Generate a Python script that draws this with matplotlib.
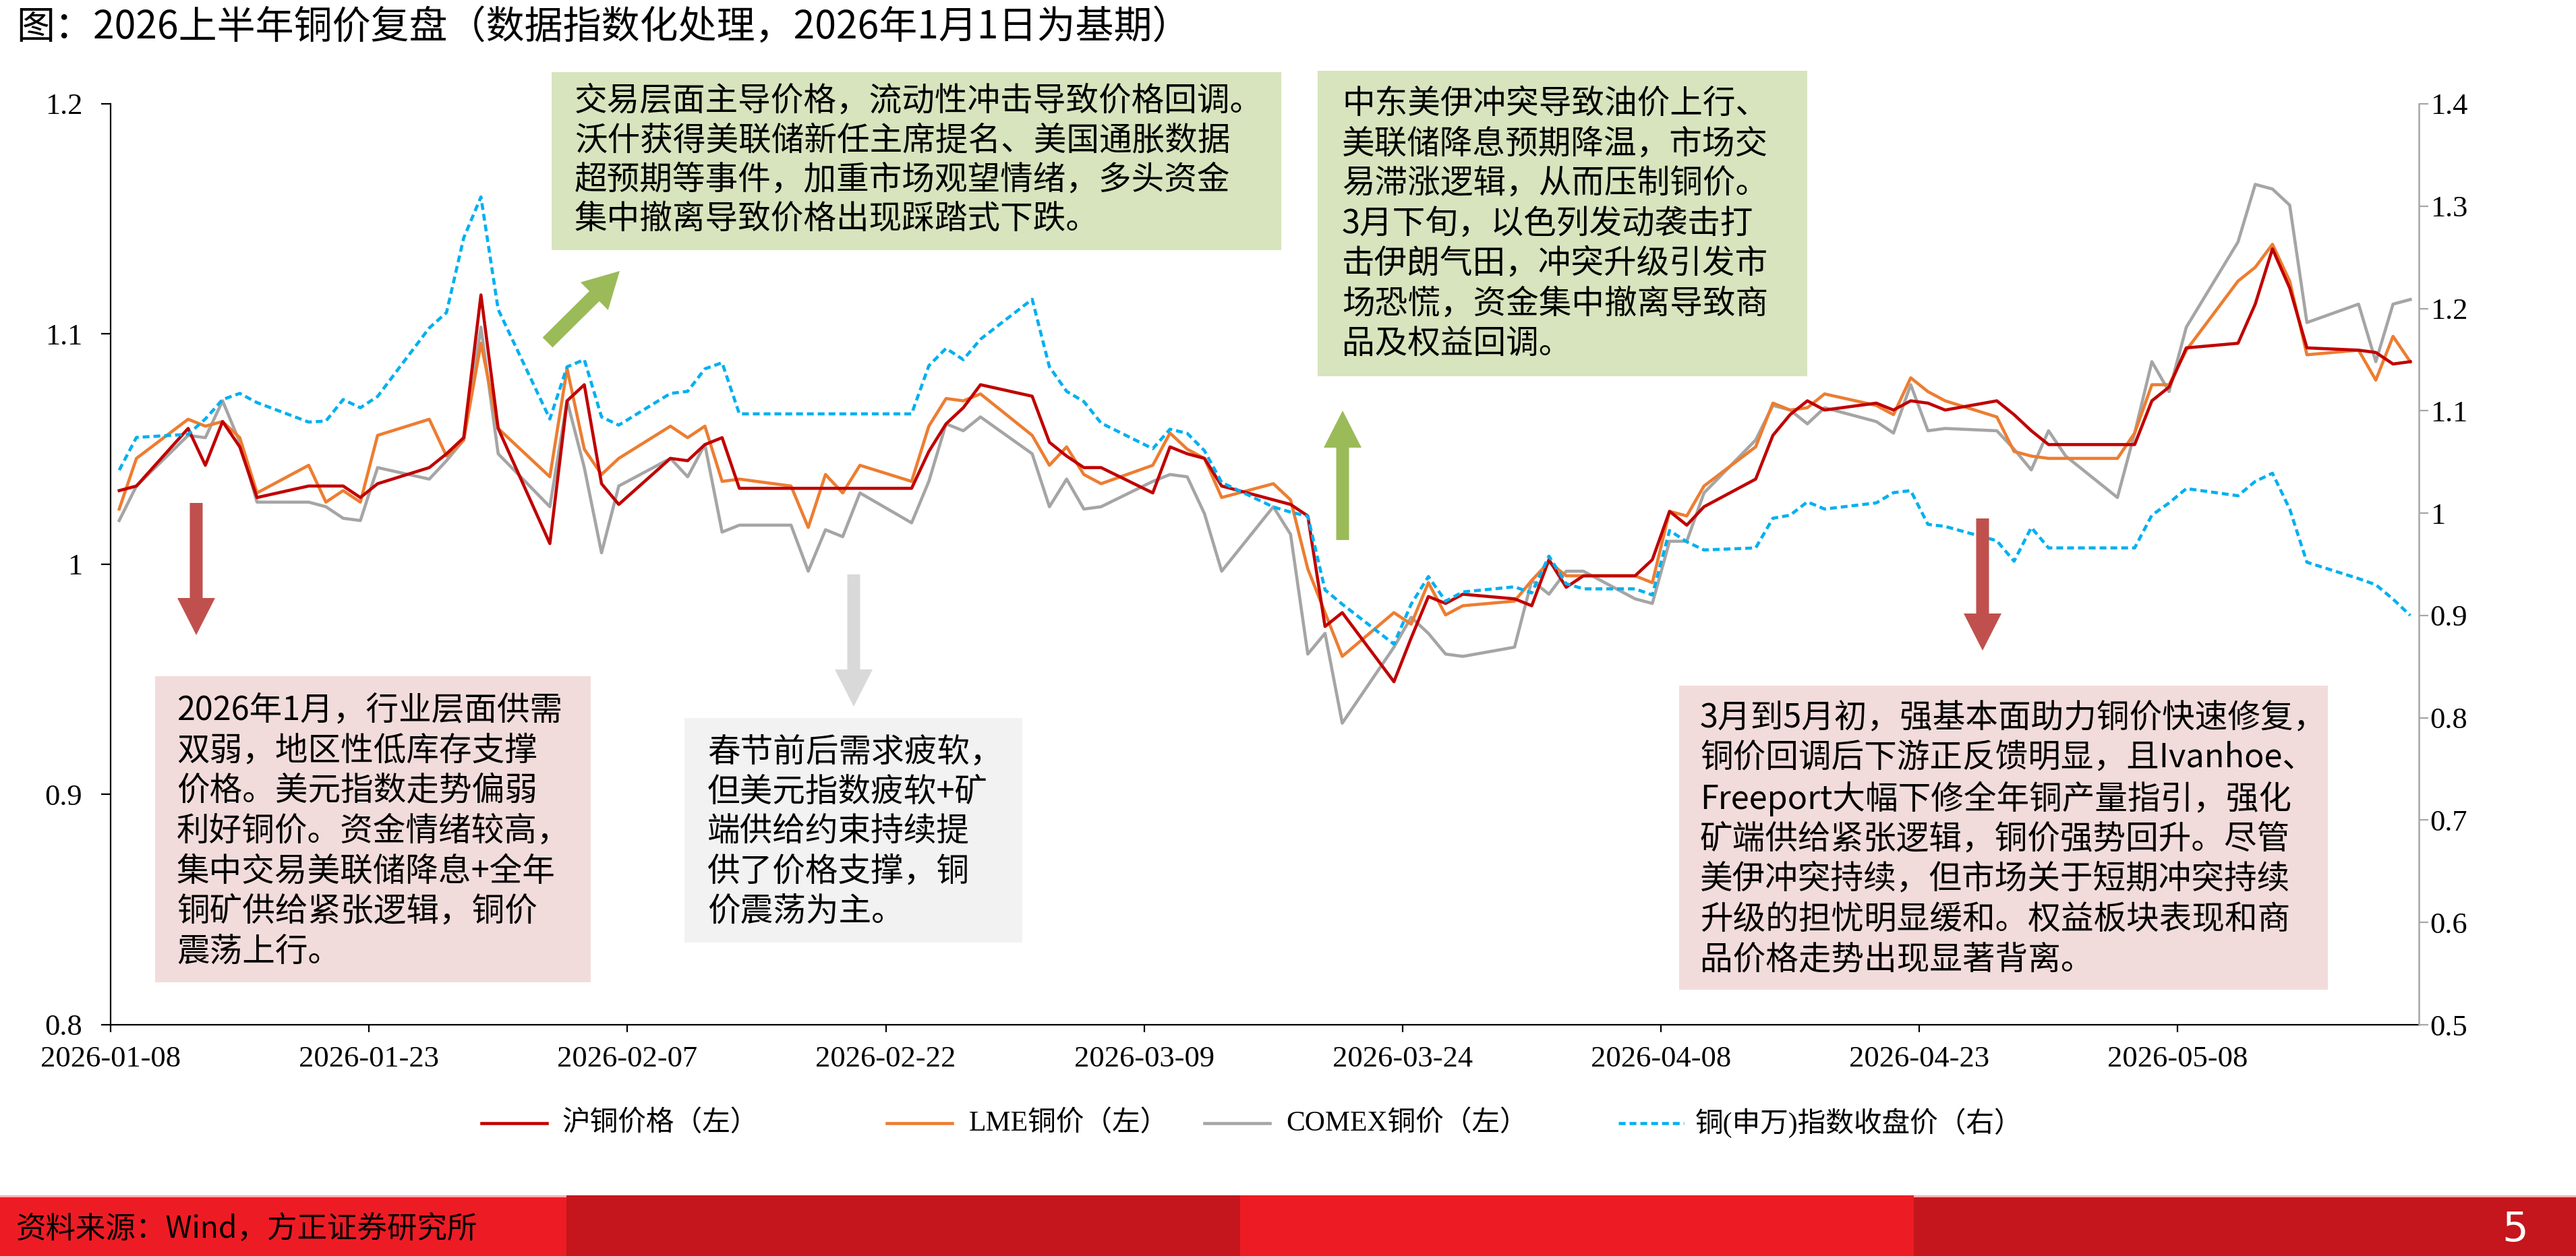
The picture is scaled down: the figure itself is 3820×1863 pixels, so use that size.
import numpy as np
import pandas as pd
import matplotlib
matplotlib.use('Agg')
import matplotlib.pyplot as plt
from matplotlib.patches import Rectangle, Polygon
from matplotlib.lines import Line2D
from matplotlib.ticker import FuncFormatter
import matplotlib.dates as mdates

plt.rcParams['font.family'] = ['Liberation Serif', 'Noto Sans CJK SC']
CJK = ['Noto Sans CJK SC', 'DejaVu Sans']

# ---- data (index, 2026-01-01 = 1), one value per business day ----
dates = pd.bdate_range('2026-01-08', '2026-05-21')

shfe = [1.032, 1.034,
        1.059, 1.043, 1.062, 1.051, 1.029,
        1.034, 1.034, 1.034, 1.029, 1.035,
        1.042, 1.048, 1.055, 1.117, 1.059,
        1.009, 1.071, 1.078, 1.035, 1.026,
        1.046, 1.045, 1.052, 1.055, 1.033,
        1.033, 1.033, 1.033, 1.033, 1.033,
        1.033, 1.049, 1.061, 1.068, 1.078,
        1.073, 1.053, 1.047, 1.042, 1.042,
        1.031, 1.051, 1.048, 1.046, 1.034,
        1.028, 1.026, 1.021, 0.973, 0.979,
        0.949, 0.968, 0.986, 0.983, 0.987,
        0.985, 0.982, 1.002, 0.990, 0.995,
        0.995, 1.002, 1.023, 1.017, 1.025,
        1.037, 1.056, 1.065, 1.071, 1.067,
        1.070, 1.067, 1.071, 1.070, 1.067,
        1.071, 1.065, 1.058, 1.052, 1.052,
        1.052, 1.052, 1.071, 1.077, 1.094,
        1.096, 1.113, 1.137, 1.120, 1.094,
        1.093, 1.092, 1.087, 1.088]

lme = [1.024, 1.046,
       1.063, 1.060, 1.062, 1.055, 1.031,
       1.043, 1.027, 1.032, 1.027, 1.056,
       1.063, 1.047, 1.054, 1.096, 1.059,
       1.038, 1.085, 1.050, 1.039, 1.046,
       1.060, 1.055, 1.060, 1.036, 1.037,
       1.034, 1.016, 1.039, 1.031, 1.043,
       1.036, 1.060, 1.072, 1.071, 1.074,
       1.056, 1.043, 1.051, 1.039, 1.035,
       1.043, 1.057, 1.050, 1.046, 1.029,
       1.035, 1.028, 0.998, 0.979, 0.960,
       0.979, 0.974, 0.992, 0.978, 0.982,
       0.984, 0.993, 1.001, 0.995, 0.995,
       0.995, 0.992, 1.023, 1.021, 1.034,
       1.051, 1.070, 1.067, 1.068, 1.074,
       1.069, 1.065, 1.081, 1.075, 1.071,
       1.064, 1.049, 1.047, 1.046, 1.046,
       1.046, 1.057, 1.078, 1.078, 1.093,
       1.123, 1.129, 1.139, 1.123, 1.091,
       1.093, 1.080, 1.099, 1.088]

comex = [1.019, 1.034,
         1.056, 1.055, 1.071, 1.053, 1.027,
         1.027, 1.025, 1.020, 1.019, 1.042,
         1.037, 1.045, 1.054, 1.103, 1.048,
         1.025, 1.071, 1.042, 1.005, 1.034,
         1.046, 1.038, 1.052, 1.014, 1.017,
         1.017, 0.997, 1.015, 1.012, 1.031,
         1.018, 1.036, 1.061, 1.058, 1.064,
         1.048, 1.025, 1.037, 1.024, 1.025,
         1.036, 1.039, 1.038, 1.022, 0.997,
         1.025, 1.013, 0.961, 0.970, 0.931,
         0.964, 0.977, 0.970, 0.961, 0.960,
         0.964, 0.993, 0.987, 0.997, 0.997,
         0.985, 0.983, 1.010, 1.010, 1.031,
         1.054, 1.069, 1.067, 1.061, 1.068,
         1.062, 1.057, 1.078, 1.058, 1.059,
         1.058, 1.050, 1.041, 1.058, 1.047,
         1.029, 1.057, 1.088, 1.075, 1.103,
         1.140, 1.165, 1.163, 1.156, 1.105,
         1.113, 1.088, 1.113, 1.115]

sw_copper = [1.042, 1.074,
             1.077, 1.092, 1.111, 1.117, 1.108,
             1.089, 1.090, 1.111, 1.103, 1.114,
             1.181, 1.196, 1.269, 1.309, 1.199,
             1.092, 1.143, 1.150, 1.094, 1.086,
             1.117, 1.119, 1.141, 1.147, 1.097,
             1.097, 1.097, 1.097, 1.097, 1.097,
             1.097, 1.144, 1.161, 1.150, 1.170,
             1.209, 1.143, 1.119, 1.109, 1.088,
             1.063, 1.082, 1.078, 1.061, 1.030,
             1.006, 1.001, 0.997, 0.925, 0.911,
             0.872, 0.911, 0.938, 0.914, 0.923,
             0.928, 0.922, 0.958, 0.931, 0.926,
             0.926, 0.920, 0.983, 0.972, 0.964,
             0.966, 0.995, 0.998, 1.011, 1.004,
             1.010, 1.020, 1.022, 0.989, 0.987,
             0.973, 0.953, 0.986, 0.966, 0.966,
             0.966, 0.966, 0.998, 1.010, 1.024,
             1.017, 1.031, 1.039, 1.004, 0.952,
             0.936, 0.930, 0.916, 0.900]

labels = ['沪铜价格（左）', 'LME铜价（左）', 'COMEX铜价（左）', '铜(申万)指数收盘价（右）']
tick_dates = pd.date_range('2026-01-08', periods=9, freq='15D')

title = '图：2026上半年铜价复盘（数据指数化处理，2026年1月1日为基期）'
source = '资料来源：Wind，方正证券研究所'

note_feb = ['交易层面主导价格，流动性冲击导致价格回调。',
            '沃什获得美联储新任主席提名、美国通胀数据',
            '超预期等事件，加重市场观望情绪，多头资金',
            '集中撤离导致价格出现踩踏式下跌。']
note_mar = ['中东美伊冲突导致油价上行、',
            '美联储降息预期降温，市场交',
            '易滞涨逻辑，从而压制铜价。',
            '3月下旬，以色列发动袭击打',
            '击伊朗气田，冲突升级引发市',
            '场恐慌，资金集中撤离导致商',
            '品及权益回调。']
note_jan = ['2026年1月，行业层面供需',
            '双弱，地区性低库存支撑',
            '价格。美元指数走势偏弱',
            '利好铜价。资金情绪较高，',
            '集中交易美联储降息+全年',
            '铜矿供给紧张逻辑，铜价',
            '震荡上行。']
note_spring = ['春节前后需求疲软，',
               '但美元指数疲软+矿',
               '端供给约束持续提',
               '供了价格支撑，铜',
               '价震荡为主。']
note_apr = ['3月到5月初，强基本面助力铜价快速修复，',
            '铜价回调后下游正反馈明显，且Ivanhoe、',
            'Freeport大幅下修全年铜产量指引，强化',
            '矿端供给紧张逻辑，铜价强势回升。尽管',
            '美伊冲突持续，但市场关于短期冲突持续',
            '升级的担忧明显缓和。权益板块表现和商',
            '品价格走势出现显著背离。']

# ---- figure ----
W, H = 3820, 1863
fig = plt.figure(figsize=(W / 100, H / 100), dpi=100)
fig.patch.set_facecolor('white')


def fx(px):
    return px / W


def fy(py):
    return 1 - py / H


ax = fig.add_axes([fx(164), fy(1520), (3587 - 164) / W, (1520 - 154) / H])
ax2 = ax.twinx()
ax.patch.set_alpha(0)

x = dates + pd.Timedelta(hours=12)
ax.plot(x, comex, color='#A5A5A5', lw=3.3, zorder=3)
ax.plot(x, lme, color='#ED7D31', lw=3.3, zorder=4)
ax.plot(x, shfe, color='#C00000', lw=3.3, zorder=5)
ax2.plot(x, sw_copper, color='#00B0F0', lw=3.3, linestyle=(0, (2.2, 1.3)))

ax.set_xlim(pd.Timestamp('2026-01-08'), pd.Timestamp('2026-05-22'))
ax.set_ylim(0.8, 1.2)
ax2.set_ylim(0.5, 1.4)
ax.set_yticks(np.round(np.arange(0.8, 1.21, 0.1), 1))
ax2.set_yticks(np.round(np.arange(0.5, 1.41, 0.1), 1))
fmt = FuncFormatter(lambda v, p: f'{round(v, 1):g}')
ax.yaxis.set_major_formatter(fmt)
ax2.yaxis.set_major_formatter(fmt)
ax.set_xticks(tick_dates)
ax.xaxis.set_major_formatter(mdates.DateFormatter('%Y-%m-%d'))

for s in ['top', 'right']:
    ax.spines[s].set_visible(False)
for s in ['top', 'left', 'bottom']:
    ax2.spines[s].set_visible(False)
ax.spines['left'].set_linewidth(1.6)
ax.spines['bottom'].set_linewidth(1.6)
ax2.spines['right'].set_color('#A6A6A6')
ax2.spines['right'].set_linewidth(1.8)

ax.tick_params(axis='y', direction='out', length=10, width=1.6, labelsize=32, pad=20)
ax.tick_params(axis='x', direction='out', length=8, width=1.6, labelsize=32, pad=14)
ax2.tick_params(axis='y', direction='out', length=10, width=1.6, color='#A6A6A6',
                labelsize=32, pad=2)

# ---- legend (drawn below the plot) ----
leg_y = fy(1666)
leg_items = [(714, 833, '#C00000', '-'), (1315, 1437, '#ED7D31', '-'),
             (1786, 1907, '#A5A5A5', '-'), (2400, 2514, '#00B0F0', (0, (2.2, 1.3)))]
for (lx, tx, c, ls), lab in zip(leg_items, labels):
    fig.add_artist(Line2D([fx(lx), fx(lx + 97)], [leg_y, leg_y], color=c, lw=3.3,
                          linestyle=ls, transform=fig.transFigure))
    fig.text(fx(tx), leg_y, lab, fontsize=30, va='center', ha='left')

# ---- annotation boxes ----
def note(x0, y0, x1, y1, color, tx, ty, dy, lines):
    fig.patches.append(Rectangle((fx(x0), fy(y1)), (x1 - x0) / W, (y1 - y0) / H,
                                 transform=fig.transFigure, facecolor=color,
                                 edgecolor='none', zorder=6))
    for i, ln in enumerate(lines):
        fig.text(fx(tx), fy(ty + i * dy), ln, fontsize=35, family=CJK,
                 va='center', ha='left', color='black', zorder=7)


note(818, 107, 1900, 371, '#D7E4BD', 852, 150, 58.3, note_feb)
note(1954, 105, 2680, 558, '#D7E4BD', 1990, 154, 59.5, note_mar)
note(230, 1003, 876, 1457, '#F2DCDB', 262, 1054, 59.6, note_jan)
note(1015, 1065, 1516, 1398, '#F2F2F2', 1049, 1116, 59, note_spring)
note(2490, 1017, 3452, 1468, '#F2DCDB', 2521, 1065, 59.8, note_apr)


# ---- arrows ----
def arrow(tail, tip, shaft_w, head_w, head_len, color):
    tail = np.array(tail, float)
    tip = np.array(tip, float)
    u = (tip - tail) / np.linalg.norm(tip - tail)
    n = np.array([-u[1], u[0]])
    base = tip - u * head_len
    pts = [tail + n * shaft_w / 2, base + n * shaft_w / 2, base + n * head_w / 2, tip,
           base - n * head_w / 2, base - n * shaft_w / 2, tail - n * shaft_w / 2]
    pts = [(fx(p[0]), fy(p[1])) for p in pts]
    fig.patches.append(Polygon(pts, closed=True, transform=fig.transFigure,
                               facecolor=color, edgecolor='none', zorder=6))


arrow((291, 746), (291, 942), 19, 56, 55, '#C0504D')
arrow((812, 508), (919, 402), 21, 58, 53, '#9BBB59')
arrow((1266, 852), (1266, 1048), 19, 56, 55, '#D9D9D9')
arrow((1991, 801), (1991, 609), 19, 56, 55, '#9BBB59')
arrow((2940, 769), (2940, 965), 19, 56, 55, '#C0504D')

# ---- title ----
fig.text(fx(24), fy(41), title, fontsize=41, family=CJK, weight='medium',
         va='center', ha='left')

# ---- footer band ----
band = [(0, 840, '#ED1C24'), (840, 1839, '#C4161C'), (1839, 2838, '#ED1C24'),
        (2838, 3820, '#C4161C')]
for b0, b1, c in band:
    fig.patches.append(Rectangle((fx(b0), 0), (b1 - b0) / W, (H - 1773) / H,
                                 transform=fig.transFigure, facecolor=c, edgecolor='none'))
for b0, b1 in [(0, 840), (2838, 3820)]:
    fig.patches.append(Rectangle((fx(b0), fy(1776)), (b1 - b0) / W, 3 / H,
                                 transform=fig.transFigure, facecolor='#F3B0B2',
                                 edgecolor='none'))
fig.text(fx(24), fy(1822), source, fontsize=32, family=CJK, va='center', ha='left',
         color='black')
fig.text(fx(3730), fy(1825), '5', fontsize=44,
         family=['Liberation Sans Narrow', 'DejaVu Sans'], va='center', ha='center',
         color='white')

fig.savefig('out.png', dpi=100)
